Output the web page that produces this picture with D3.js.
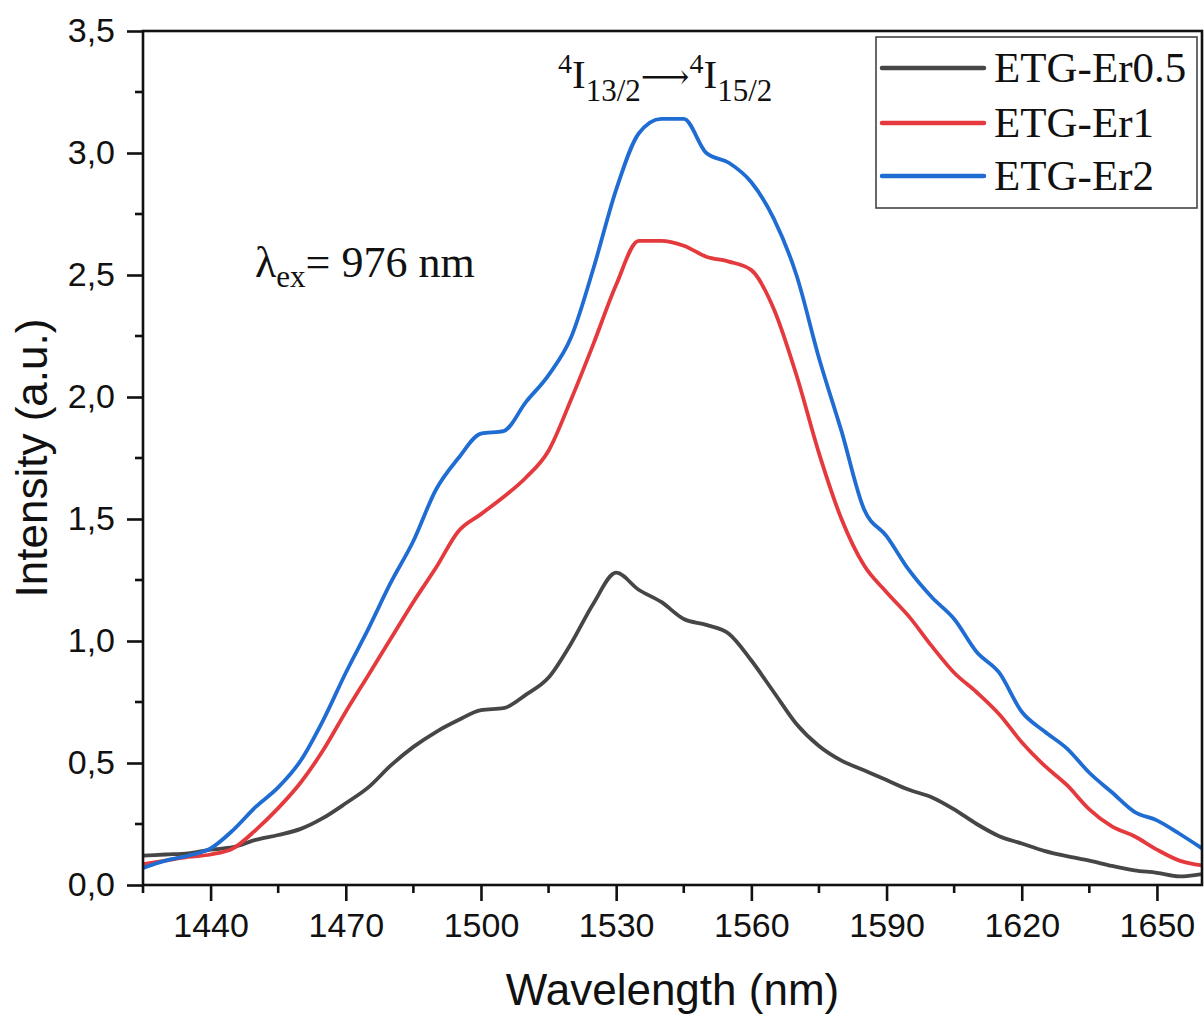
<!DOCTYPE html>
<html>
<head>
<meta charset="utf-8">
<script src="https://cdn.jsdelivr.net/npm/d3@7"></script>
<style>
  body { margin: 0; background: #fff; }
  .tick text { font-family: "Liberation Sans", Arial, sans-serif; font-size: 34px; fill: #111; }
  .axis-title { font-family: "Liberation Sans", Arial, sans-serif; font-size: 44px; fill: #111; }
  .serif { font-family: "Liberation Serif", "Times New Roman", "DejaVu Serif", serif; fill: #111; }
</style>
</head>
<body>
<div class="graph"></div>
<script>
// wavelength grid (nm) and the three emission spectra
var wavelength = [1425, 1430, 1435, 1440, 1445, 1450, 1455, 1460, 1465, 1470,
                  1475, 1480, 1485, 1490, 1495, 1500, 1505, 1510, 1515, 1520,
                  1525, 1530, 1535, 1540, 1545, 1550, 1555, 1560, 1565, 1570,
                  1575, 1580, 1585, 1590, 1595, 1600, 1605, 1610, 1615, 1620,
                  1625, 1630, 1635, 1640, 1645, 1650, 1655, 1660];

var er05 = [0.12, 0.125, 0.13, 0.145, 0.155, 0.185, 0.205, 0.23, 0.275, 0.335,
            0.40, 0.49, 0.566, 0.627, 0.676, 0.717, 0.725, 0.78, 0.85, 0.99,
            1.155, 1.28, 1.21, 1.16, 1.09, 1.066, 1.03, 0.92, 0.79, 0.66,
            0.57, 0.51, 0.47, 0.43, 0.39, 0.36, 0.31, 0.25, 0.20, 0.17,
            0.14, 0.118, 0.10, 0.078, 0.06, 0.05, 0.035, 0.045];

var er1 = [0.085, 0.10, 0.115, 0.125, 0.15, 0.225, 0.315, 0.42, 0.553, 0.71,
           0.86, 1.01, 1.16, 1.30, 1.45, 1.52, 1.59, 1.67, 1.78, 1.99,
           2.22, 2.46, 2.64, 2.64, 2.62, 2.575, 2.555, 2.52, 2.36, 2.09,
           1.77, 1.50, 1.31, 1.20, 1.10, 0.98, 0.87, 0.79, 0.70, 0.585,
           0.49, 0.41, 0.31, 0.24, 0.20, 0.145, 0.10, 0.08];

var er2 = [0.07, 0.10, 0.12, 0.15, 0.225, 0.32, 0.40, 0.51, 0.676, 0.87,
           1.05, 1.24, 1.41, 1.62, 1.75, 1.85, 1.86, 1.98, 2.09, 2.245,
           2.53, 2.85, 3.08, 3.14, 3.14, 3.00, 2.96, 2.88, 2.73, 2.50,
           2.16, 1.86, 1.54, 1.43, 1.29, 1.18, 1.09, 0.955, 0.87, 0.71,
           0.63, 0.56, 0.46, 0.38, 0.30, 0.265, 0.21, 0.15];

var seriesNames = ["ETG-Er0.5", "ETG-Er1", "ETG-Er2"];
var seriesValues = [er05, er1, er2];
var seriesColors = ["#464646", "#e53a3d", "#1f6cd3"];

var xTicks = [1440, 1470, 1500, 1530, 1560, 1590, 1620, 1650];
var xMinor = [1425, 1455, 1485, 1515, 1545, 1575, 1605, 1635];
var yTicks = [0, 0.5, 1, 1.5, 2, 2.5, 3, 3.5];
var yMinor = [0.25, 0.75, 1.25, 1.75, 2.25, 2.75, 3.25];

// plot frame in page pixels
var margin = {top: 31, right: 2, bottom: 133, left: 143},
    W = 1204, H = 1018,
    width = W - margin.left - margin.right,
    height = H - margin.top - margin.bottom;

var svg = d3.select(".graph").append("svg")
    .attr("width", W)
    .attr("height", H);

var g = svg.append("g")
    .attr("transform", "translate(" + margin.left + "," + margin.top + ")");

var x = d3.scaleLinear().domain([1425, 1660]).range([0, width]);
var y = d3.scaleLinear().domain([0, 3.5]).range([height, 0]);

var fmt = function(d) { return d3.format(".1f")(d).replace(".", ","); };

// clip curves to the frame
g.append("clipPath").attr("id", "clip")
  .append("rect").attr("width", width).attr("height", height);

var line = d3.line()
    .x(function(d) { return x(d[0]); })
    .y(function(d) { return y(d[1]); })
    .curve(d3.curveMonotoneX);

seriesValues.forEach(function(vals, i) {
  var pts = wavelength.map(function(w, j) { return [w, vals[j]]; });
  g.append("path")
    .attr("clip-path", "url(#clip)")
    .attr("d", line(pts))
    .attr("fill", "none")
    .attr("stroke", seriesColors[i])
    .attr("stroke-width", 3.8)
    .attr("stroke-linejoin", "round");
});

// ****************** axes ***************************
var xAxis = g.append("g")
    .attr("transform", "translate(0," + height + ")")
    .call(d3.axisBottom(x).tickValues(xTicks).tickSize(16).tickPadding(12).tickFormat(d3.format("d")));
xAxis.append("g").selectAll("line").data(xMinor).enter().append("line")
    .attr("x1", function(d) { return x(d); }).attr("x2", function(d) { return x(d); })
    .attr("y1", 0).attr("y2", 8);

var yAxis = g.append("g")
    .call(d3.axisLeft(y).tickValues(yTicks).tickSize(16).tickPadding(12).tickFormat(fmt));
yAxis.append("g").selectAll("line").data(yMinor).enter().append("line")
    .attr("x1", 0).attr("x2", -8)
    .attr("y1", function(d) { return y(d); }).attr("y2", function(d) { return y(d); });

[xAxis, yAxis].forEach(function(a) {
  a.selectAll(".domain").remove();
  a.selectAll("line").attr("stroke", "#111").attr("stroke-width", 2.6);
});

// frame on all four sides
g.append("rect")
    .attr("width", width).attr("height", height)
    .attr("fill", "none").attr("stroke", "#111").attr("stroke-width", 2.6);

// axis titles
svg.append("text").attr("class", "axis-title")
    .attr("x", margin.left + width / 2).attr("y", 1005)
    .attr("text-anchor", "middle")
    .text("Wavelength (nm)");

svg.append("text").attr("class", "axis-title")
    .attr("transform", "translate(47," + (margin.top + height / 2) + ") rotate(-90)")
    .attr("text-anchor", "middle")
    .text("Intensity (a.u.)");

// ****************** annotations ***************************
var trans = svg.append("text").attr("class", "serif")
    .attr("x", 558).attr("y", 88).attr("font-size", 41);
trans.append("tspan").attr("font-size", 28).attr("dy", -15).text("4");
trans.append("tspan").attr("dy", 15).text("I");
trans.append("tspan").attr("font-size", 31).attr("dy", 13).text("13/2");
trans.append("tspan").attr("dy", -13).attr("font-family", "DejaVu Serif").attr("font-size", 34).text("\u27F6");
trans.append("tspan").attr("font-size", 28).attr("dy", -15).text("4");
trans.append("tspan").attr("dy", 15).text("I");
trans.append("tspan").attr("font-size", 31).attr("dy", 13).text("15/2");

var lam = svg.append("text").attr("class", "serif")
    .attr("x", 255).attr("y", 277).attr("font-size", 44);
lam.append("tspan").text("\u03bb");
lam.append("tspan").attr("font-size", 31).attr("dy", 10).text("ex");
lam.append("tspan").attr("dy", -10).text("= 976 nm");

// ****************** legend ***************************
var legend = svg.append("g");
legend.append("rect")
    .attr("x", 876).attr("y", 37).attr("width", 321).attr("height", 171)
    .attr("fill", "#fff").attr("stroke", "#444").attr("stroke-width", 1.6);

var rowY = [68, 123, 176];
seriesNames.forEach(function(name, i) {
  legend.append("line")
    .attr("x1", 882).attr("x2", 984)
    .attr("y1", rowY[i]).attr("y2", rowY[i])
    .attr("stroke", seriesColors[i]).attr("stroke-width", 4.5)
    .attr("stroke-linecap", "round");
  legend.append("text").attr("class", "serif")
    .attr("x", 994).attr("y", rowY[i] + 14)
    .attr("font-size", 43)
    .text(name);
});
</script>
</body>
</html>
